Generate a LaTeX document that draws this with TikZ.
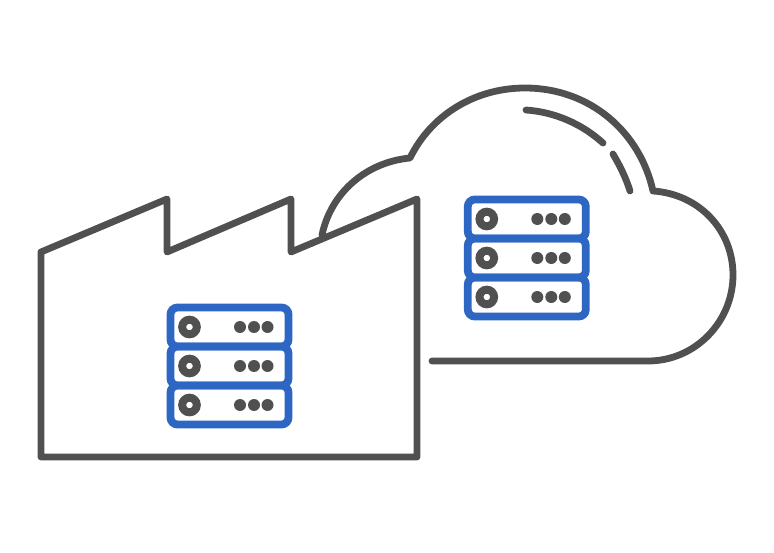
\documentclass[tikz,border=0pt]{standalone}
\definecolor{dk}{HTML}{505050}
\definecolor{bl}{HTML}{2D67C3}
\tikzset{x=1pt,y=-1pt,
 line/.style={draw=dk,line width=6.8pt,line join=round,line cap=round},
 rack/.style={draw=bl,line width=7.8pt,rounded corners=7pt},
 ring/.style={draw=dk,line width=8pt},
 led/.style={fill=dk}}
\newcommand{\rackunit}[2]{%
 \draw[rack] (#1,#2) rectangle ++(118,39);
 \draw[ring] (#1+19,#2+19.5) circle (7.3);
 \fill[led] (#1+69.5,#2+19.5) circle (6);
 \fill[led] (#1+83.5,#2+19.5) circle (6);
 \fill[led] (#1+97,#2+19.5) circle (6);}
\begin{document}
\begin{tikzpicture}
\useasboundingbox (0,0) rectangle (774,553);
\fill[white] (0,0) rectangle (774,553);
\draw[line] (322,235) .. controls (331,192) and (367,162) .. (410,158) .. controls (431,115) and (475,88) .. (525,88) .. controls (590,88) and (640,132) .. (653,191) .. controls (699,194) and (733,230) .. (733,275) .. controls (733,322) and (695,361) .. (648,361) -- (432,361);
\draw[line] (526,110) .. controls (555,112) and (582,124) .. (603,143);
\draw[line] (613,154) .. controls (620,166) and (626,178) .. (630,191);
\draw[line] (41,252) -- (167,199) -- (167,252) -- (291,199) -- (291,252) -- (417,199) -- (417,457) -- (41,457) -- cycle;
\rackunit{467.8}{199.5}\rackunit{467.8}{238.5}\rackunit{467.8}{277.5}
\rackunit{170.5}{307.5}\rackunit{170.5}{346.5}\rackunit{170.5}{385.5}
\end{tikzpicture}
\end{document}
